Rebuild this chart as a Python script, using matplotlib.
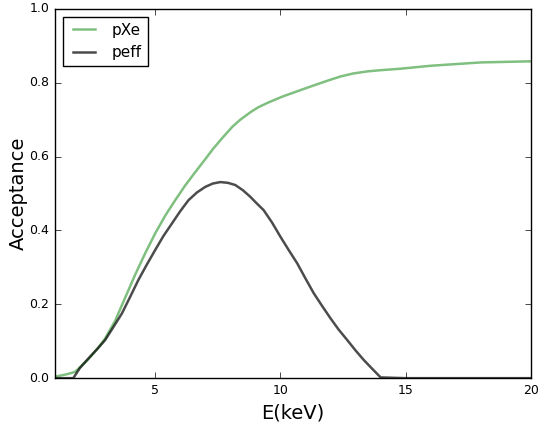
import matplotlib
matplotlib.use("Agg")
import matplotlib.pyplot as plt
import numpy as np

plt.style.use('classic')

# pXe curve
e_pxe = [1.0, 1.5, 1.8, 2.3, 2.7, 3.0, 3.4, 3.7, 4.2, 4.6, 5.0, 5.4, 5.8, 6.2,
         6.6, 7.0, 7.3, 7.7, 8.1, 8.4, 8.8, 9.1, 9.5, 10.1, 10.8, 11.3, 11.9,
         12.4, 12.9, 13.5, 14.0, 14.8, 16.0, 18.0, 20.0]
pxe = [0.004, 0.011, 0.017, 0.049, 0.080, 0.107, 0.155, 0.202, 0.280, 0.338,
       0.392, 0.440, 0.482, 0.522, 0.558, 0.593, 0.620, 0.652, 0.682, 0.700,
       0.720, 0.733, 0.746, 0.763, 0.780, 0.792, 0.806, 0.817, 0.825, 0.831,
       0.834, 0.838, 0.846, 0.855, 0.858]

# peff curve
e_peff = [1.0, 1.73, 2.0, 2.33, 2.7, 3.0, 3.3, 3.67, 4.0, 4.33, 4.67, 5.0, 5.33,
          5.67, 6.0, 6.33, 6.67, 7.0, 7.3, 7.6, 7.9, 8.2, 8.5, 8.8, 9.0, 9.33,
          9.67, 10.0, 10.33, 10.67, 11.0, 11.33, 11.67, 12.0, 12.33, 12.67,
          13.0, 13.33, 13.67, 14.0, 15.0, 17.0, 20.0]
peff = [0.0, 0.0, 0.028, 0.053, 0.080, 0.103, 0.135, 0.175, 0.220, 0.266,
        0.308, 0.347, 0.385, 0.419, 0.452, 0.482, 0.503, 0.518, 0.527, 0.531,
        0.529, 0.523, 0.509, 0.491, 0.477, 0.455, 0.421, 0.383, 0.347, 0.311,
        0.270, 0.230, 0.195, 0.162, 0.131, 0.103, 0.075, 0.049, 0.025, 0.002,
        0.0, 0.0, 0.0]

fig = plt.figure(figsize=(5.39, 4.23), dpi=100, facecolor='white')
ax = fig.add_axes([0.102, 0.106, 0.883, 0.873])
ax.plot(e_pxe, pxe, color='g', alpha=0.5, lw=1.8, label='pXe')
ax.plot(e_peff, peff, color='k', alpha=0.7, lw=1.8, label='peff')
ax.set_xlim(1, 20)
ax.set_ylim(0, 1.0)
ax.set_xticks([5, 10, 15, 20])
ax.set_yticks([0.0, 0.2, 0.4, 0.6, 0.8, 1.0])
ax.tick_params(labelsize=9)
ax.set_xlabel('E(keV)', fontsize=14)
ax.set_ylabel('Acceptance', fontsize=14, labelpad=1)
leg = ax.legend(loc='upper left', fontsize=11)
fig.savefig('out.png', dpi=100, facecolor='white')
